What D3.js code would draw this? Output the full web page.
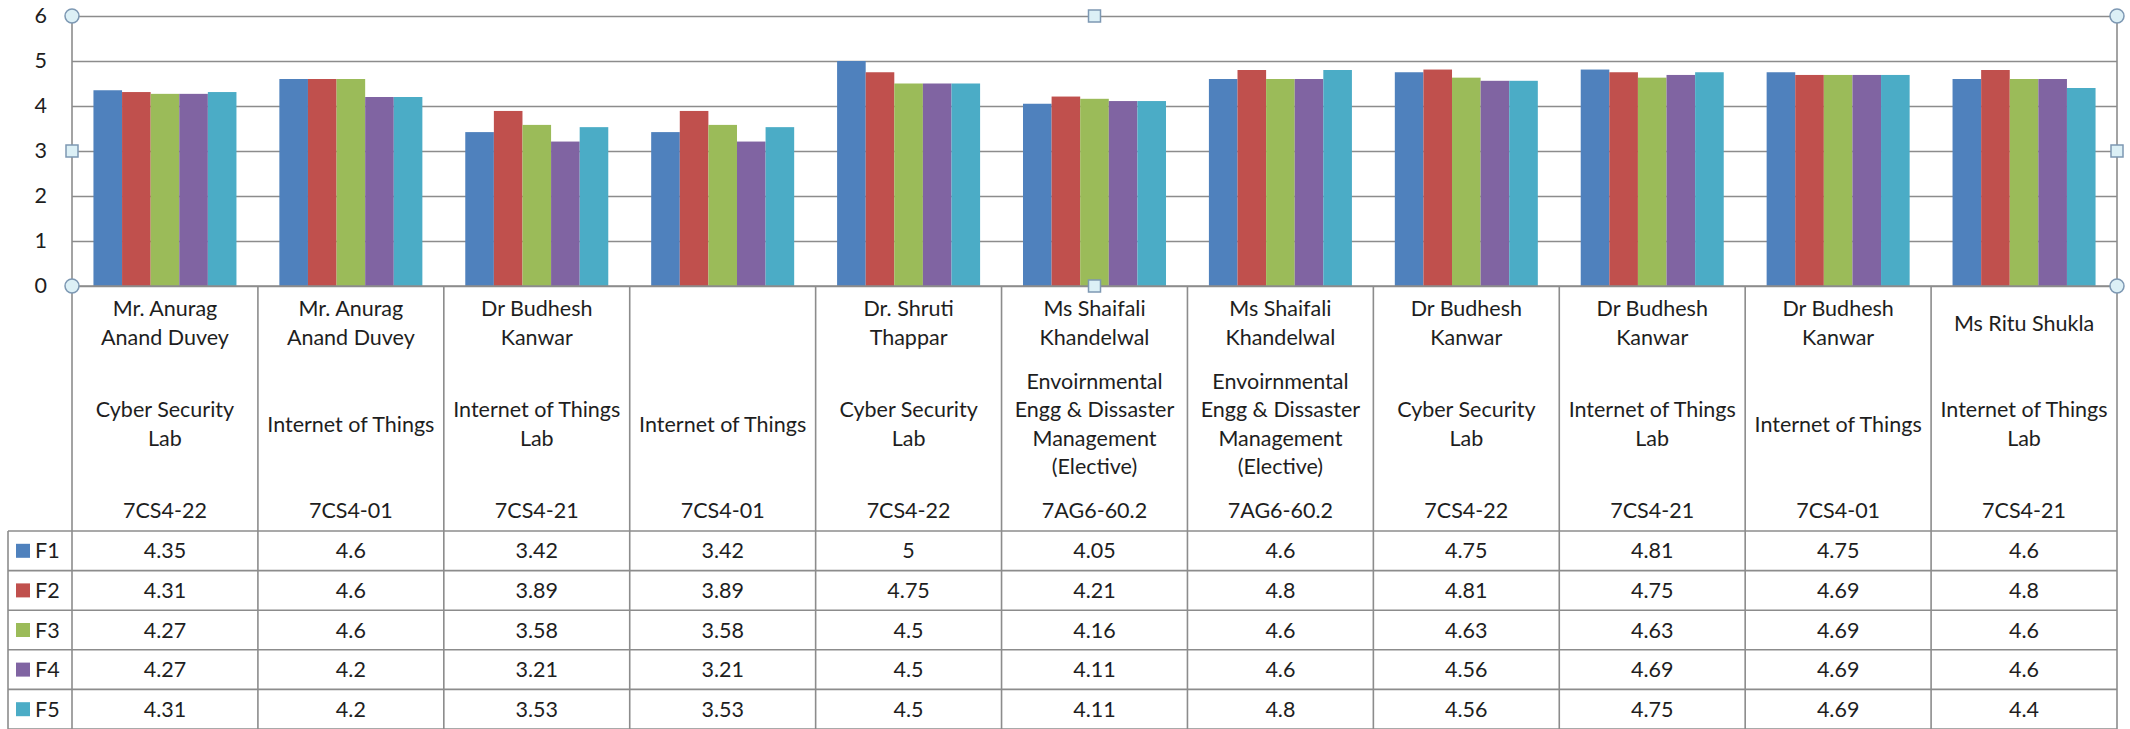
<html>
  <head>
    <style>
      body { margin: 0; background: #fff; }
      text { font-family: Lato, "Open Sans", sans-serif; fill: #1e1e1e; }
    </style>
  </head>
  <body>
    <svg id="container" width="2130" height="729"></svg>
  </body>
  <script src="https://cdn.jsdelivr.net/npm/d3@7"></script>
  <script>
    // chart values
    let series = ["F1", "F2", "F3", "F4", "F5"];
    let colors = ["#4f81bd", "#c0504d", "#9bbb59", "#8064a2", "#4bacc6"];

    let teachers = [
      ["Mr. Anurag", "Anand Duvey"],
      ["Mr. Anurag", "Anand Duvey"],
      ["Dr Budhesh", "Kanwar"],
      [],
      ["Dr. Shruti", "Thappar"],
      ["Ms Shaifali", "Khandelwal"],
      ["Ms Shaifali", "Khandelwal"],
      ["Dr Budhesh", "Kanwar"],
      ["Dr Budhesh", "Kanwar"],
      ["Dr Budhesh", "Kanwar"],
      ["Ms Ritu Shukla"]
    ];
    let subjects = [
      ["Cyber Security", "Lab"],
      ["Internet of Things"],
      ["Internet of Things", "Lab"],
      ["Internet of Things"],
      ["Cyber Security", "Lab"],
      ["Envoirnmental", "Engg & Dissaster", "Management", "(Elective)"],
      ["Envoirnmental", "Engg & Dissaster", "Management", "(Elective)"],
      ["Cyber Security", "Lab"],
      ["Internet of Things", "Lab"],
      ["Internet of Things"],
      ["Internet of Things", "Lab"]
    ];
    let codes = ["7CS4-22", "7CS4-01", "7CS4-21", "7CS4-01", "7CS4-22", "7AG6-60.2",
                 "7AG6-60.2", "7CS4-22", "7CS4-21", "7CS4-01", "7CS4-21"];

    let f1 = [4.35, 4.6, 3.42, 3.42, 5, 4.05, 4.6, 4.75, 4.81, 4.75, 4.6];
    let f2 = [4.31, 4.6, 3.89, 3.89, 4.75, 4.21, 4.8, 4.81, 4.75, 4.69, 4.8];
    let f3 = [4.27, 4.6, 3.58, 3.58, 4.5, 4.16, 4.6, 4.63, 4.63, 4.69, 4.6];
    let f4 = [4.27, 4.2, 3.21, 3.21, 4.5, 4.11, 4.6, 4.56, 4.69, 4.69, 4.6];
    let f5 = [4.31, 4.2, 3.53, 3.53, 4.5, 4.11, 4.8, 4.56, 4.75, 4.69, 4.4];
    let values = [f1, f2, f3, f4, f5];

    let yTicks = [0, 1, 2, 3, 4, 5, 6];

    let svg = d3.select("#container");
    let plotLeft = 72, plotRight = 2117, plotTop = 16, zeroY = 286;
    let tableLeft = 8, tableTop = 531, rowH = 39.6, pageBottom = 729;
    let lineColor = "#8c8c8c";
    let fontSize = "21.5px";

    let xScale = d3.scaleBand()
        .domain(d3.range(codes.length))
        .range([plotLeft, plotRight])
        .padding(0);
    let xInner = d3.scaleBand()
        .domain(series)
        .range([0, xScale.bandwidth()])
        .paddingInner(0)
        .paddingOuter(0.75);
    let yScale = d3.scaleLinear()
        .domain([0, 6])
        .range([zeroY, plotTop]);

    // gridlines + tick labels
    let yAxis = svg.append("g")
        .attr("transform", "translate(" + plotLeft + ",0)")
        .call(d3.axisLeft(yScale).tickValues(yTicks).tickFormat(d3.format("d"))
            .tickSize(-(plotRight - plotLeft)).tickSizeOuter(0).tickPadding(25));
    yAxis.select(".domain").remove();
    yAxis.selectAll("line").attr("stroke", lineColor).attr("stroke-width", 1.6);
    yAxis.selectAll("text")
        .style("font-family", "Lato, sans-serif")
        .style("font-size", fontSize)
        .attr("fill", "#1e1e1e");

    // bars
    series.forEach((s, si) => {
        svg.append("g").selectAll("rect")
            .data(values[si])
            .join("rect")
            .attr("x", (d, i) => xScale(i) + xInner(s))
            .attr("y", d => yScale(d))
            .attr("width", xInner.bandwidth())
            .attr("height", d => zeroY - yScale(d))
            .attr("fill", colors[si]);
    });

    let grid = svg.append("g").attr("stroke", lineColor).attr("stroke-width", 1.6);

    // value axis and frame
    grid.append("line").attr("x1", plotLeft).attr("x2", plotLeft).attr("y1", plotTop).attr("y2", pageBottom);
    grid.append("line").attr("x1", plotRight).attr("x2", plotRight).attr("y1", plotTop).attr("y2", pageBottom);
    grid.append("line").attr("x1", plotLeft).attr("x2", plotRight).attr("y1", zeroY).attr("y2", zeroY);

    // category separators through the data table
    grid.selectAll(".sep")
        .data(d3.range(1, codes.length))
        .join("line")
        .attr("x1", i => xScale(i)).attr("x2", i => xScale(i))
        .attr("y1", zeroY).attr("y2", pageBottom);

    // data table rows
    grid.selectAll(".row")
        .data(d3.range(series.length + 1))
        .join("line")
        .attr("x1", tableLeft).attr("x2", plotRight)
        .attr("y1", r => tableTop + r * rowH).attr("y2", r => tableTop + r * rowH);
    grid.append("line").attr("x1", tableLeft).attr("x2", tableLeft)
        .attr("y1", tableTop).attr("y2", pageBottom);

    // header text
    let lineH = 28.5;
    let header = svg.append("g").attr("text-anchor", "middle").style("font-size", fontSize);
    function block(lines, cx, cy) {
        lines.forEach((t, k) => {
            header.append("text")
                .attr("x", cx)
                .attr("y", cy + (k - (lines.length - 1) / 2) * lineH)
                .attr("dy", "0.35em")
                .text(t);
        });
    }
    codes.forEach((c, i) => {
        let cx = xScale(i) + xScale.bandwidth() / 2;
        block(teachers[i], cx, 323);
        block(subjects[i], cx, 424);
        block([c], cx, 510);
    });

    // table values and legend keys
    let table = svg.append("g").style("font-size", fontSize);
    series.forEach((s, si) => {
        let cy = tableTop + (si + 0.5) * rowH;
        table.append("rect")
            .attr("x", 16).attr("y", cy - 7)
            .attr("width", 14).attr("height", 14)
            .attr("fill", colors[si]);
        table.append("text")
            .attr("x", 35).attr("y", cy).attr("dy", "0.35em")
            .text(s);
        table.selectAll(".v" + si)
            .data(values[si])
            .join("text")
            .attr("x", (d, i) => xScale(i) + xScale.bandwidth() / 2)
            .attr("y", cy).attr("dy", "0.35em")
            .attr("text-anchor", "middle")
            .text(d => String(d));
    });

    // selection handles of the plot area
    let handles = svg.append("g").attr("stroke", "#7d98b3").attr("stroke-width", 1.5).attr("fill", "#dcf0f6");
    let midX = (plotLeft + plotRight) / 2, midY = (plotTop + zeroY) / 2;
    [[plotLeft, plotTop], [plotRight, plotTop], [plotLeft, zeroY], [plotRight, zeroY]].forEach(p => {
        handles.append("circle").attr("cx", p[0]).attr("cy", p[1]).attr("r", 7);
    });
    [[plotLeft, midY], [plotRight, midY], [midX, plotTop], [midX, zeroY]].forEach(p => {
        handles.append("rect").attr("x", p[0] - 6).attr("y", p[1] - 6)
            .attr("width", 12).attr("height", 12);
    });
  </script>
</html>
